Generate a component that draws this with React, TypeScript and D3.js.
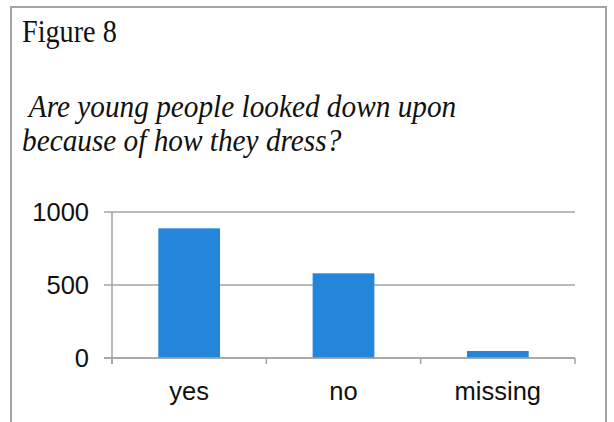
import React from "react";
import * as d3 from "d3";

const categories = ["yes", "no", "missing"];
const counts = [888, 580, 48];
const yTicks = [0, 500, 1000];
const title = "Figure 8";
const subtitleLines = [" Are young people looked down upon", "because of how they dress?"];

const W = 614;
const H = 422;
const plot = { left: 112, right: 575, top: 212, bottom: 358 };
const gray = "#a3a3a3";
const barColor = "#2486db";
const serif = "'Liberation Serif', 'Times New Roman', serif";
const sans = "'Liberation Sans', Arial, sans-serif";

export default function App() {
  const x = d3.scaleBand<string>().domain(categories).range([plot.left, plot.right]).paddingInner(0.6).paddingOuter(0.3);
  const y = d3.scaleLinear().domain([0, 1000]).range([plot.bottom, plot.top]);
  const bandW = (plot.right - plot.left) / categories.length;
  const bandEdges = d3.range(categories.length + 1).map((i) => plot.left + i * bandW);
  const center = (c: string) => plot.left + bandW * (categories.indexOf(c) + 0.5);
  const barW = x.bandwidth();

  return (
    <svg
      width={W}
      height={H}
      viewBox={`0 0 ${W} ${H}`}
      style={{ position: "absolute", left: 0, top: 0, display: "block", background: "#fff" }}
    >
      {/* frame */}
      <path d={`M11,${H} L11,7 L606,7 L606,${H}`} fill="none" stroke={gray} strokeWidth={2} />

      <text transform="translate(22,42) scale(0.91,1)" fontFamily={serif} fontSize={31} fill="#111">
        {title}
      </text>
      {subtitleLines.map((line, i) => (
        <text
          key={i}
          transform={`translate(22,${117 + i * 34}) scale(0.945,1)`}
          fontFamily={serif}
          fontStyle="italic"
          fontSize={31}
          fill="#111"
          style={{ whiteSpace: "pre" }}
        >
          {line}
        </text>
      ))}

      {/* gridlines and y ticks */}
      {yTicks.map((t) => (
        <g key={t}>
          <line x1={104} x2={plot.right} y1={y(t)} y2={y(t)} stroke={gray} strokeWidth={1.5} />
          <text x={89} y={y(t)} dy="0.36em" textAnchor="end" fontFamily={sans} fontSize={25.5} fill="#111">
            {t}
          </text>
        </g>
      ))}

      {/* bars */}
      {categories.map((c, i) => (
        <rect
          key={c}
          x={center(c) - barW / 2}
          y={y(counts[i])}
          width={barW}
          height={y(0) - y(counts[i])}
          fill={barColor}
        />
      ))}

      {/* axes */}
      <line x1={plot.left} x2={plot.left} y1={plot.top} y2={plot.bottom + 6} stroke={gray} strokeWidth={1.5} />
      <line x1={104} x2={plot.right} y1={plot.bottom} y2={plot.bottom} stroke={gray} strokeWidth={1.5} />
      {bandEdges.map((bx, i) => (
        <line key={i} x1={bx} x2={bx} y1={plot.bottom} y2={plot.bottom + 6} stroke={gray} strokeWidth={1.5} />
      ))}
      {categories.map((c) => (
        <text key={c} x={center(c)} y={400} textAnchor="middle" fontFamily={sans} fontSize={25.5} fill="#111">
          {c}
        </text>
      ))}
    </svg>
  );
}
